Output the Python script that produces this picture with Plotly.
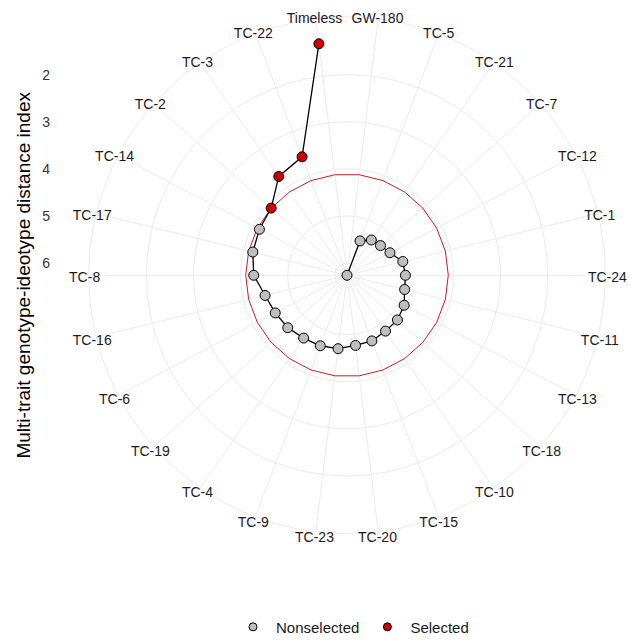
import plotly.graph_objects as go

# ---- data ----
genotypes = ["GW-180", "TC-5", "TC-21", "TC-7", "TC-12", "TC-1", "TC-24", "TC-11",
             "TC-13", "TC-18", "TC-10", "TC-15", "TC-20", "TC-23", "TC-9", "TC-4",
             "TC-19", "TC-6", "TC-16", "TC-8", "TC-17", "TC-14", "TC-2", "TC-3",
             "TC-22", "Timeless"]
mgidi = [6.26, 5.48, 5.35, 5.31, 5.23, 5.04, 5.02, 5.00, 4.89, 4.83, 4.82, 4.77,
         4.76, 4.69, 4.66, 4.64, 4.58, 4.54, 4.47, 4.28, 4.20, 4.16, 4.11, 3.71,
         3.57, 1.31]
selected = ["TC-2", "TC-3", "TC-22", "Timeless"]
radial_ticks = [2, 3, 4, 5, 6]

# ---- style / layout constants ----
R_CENTER = 6.26      # value at the centre of the plot
R_OUTER = 0.775      # value at the outer ring
GRID = "#EBEBEB"
FONT = "Liberation Sans, Arial, sans-serif"
GREY = "#BEBEBE"
RED = "#CC0000"

sel_r = [m for g, m in zip(genotypes, mgidi) if g in selected]
sel_t = [g for g in genotypes if g in selected]
non_r = [m for g, m in zip(genotypes, mgidi) if g not in selected]
non_t = [g for g in genotypes if g not in selected]
cutoff = max(sel_r)

fig = go.Figure()

# cut-off circle
fig.add_trace(go.Scatterpolar(
    r=[cutoff] * (len(genotypes) + 1), theta=genotypes + genotypes[:1],
    mode="lines", line=dict(color="#C81E1E", width=1),
    showlegend=False, hoverinfo="skip"))

# path
fig.add_trace(go.Scatterpolar(
    r=mgidi, theta=genotypes, mode="lines",
    line=dict(color="black", width=1.3), showlegend=False, hoverinfo="skip"))

# points
fig.add_trace(go.Scatterpolar(
    r=non_r, theta=non_t, mode="markers",
    marker=dict(size=10, color=GREY, line=dict(color="black", width=1)),
    showlegend=False))
fig.add_trace(go.Scatterpolar(
    r=sel_r, theta=sel_t, mode="markers",
    marker=dict(size=10, color=RED, line=dict(color="black", width=1)),
    showlegend=False))

# genotype labels on the outer ring of a label-only polar subplot
fig.add_trace(go.Scatterpolar(
    r=[1] * len(genotypes), theta=genotypes, mode="text",
    text=genotypes, textposition="middle center",
    textfont=dict(family=FONT, size=14, color="#1A1A1A"),
    cliponaxis=False, showlegend=False, hoverinfo="skip", subplot="polar2"))

# legend-only entries
fig.add_trace(go.Scatter(x=[None], y=[None], mode="markers", name="Nonselected",
                         marker=dict(size=8, color=GREY, line=dict(color="black", width=1))))
fig.add_trace(go.Scatter(x=[None], y=[None], mode="markers", name="Selected",
                         marker=dict(size=8, color=RED, line=dict(color="black", width=1))))

W, H = 630, 644
cx, cy, R = 347, 277, 260
dom_x = [(cx - R) / W, (cx + R) / W]
dom_y = [1 - (cy + R) / H, 1 - (cy - R) / H]
lx, ly, LR = 346, 280.5, 263
lab_x = [(lx - LR) / W, (lx + LR) / W]
lab_y = [1 - (ly + LR) / H, 1 - (ly - LR) / H]

ang_common = dict(type="category", categoryorder="array", categoryarray=genotypes,
                  direction="clockwise", rotation=90 - 180 / len(genotypes),
                  showticklabels=False, ticks="")

fig.update_layout(
    width=W, height=H,
    margin=dict(l=0, r=0, t=0, b=0),
    paper_bgcolor="white", plot_bgcolor="white",
    font=dict(family=FONT, size=14, color="#1A1A1A"),
    polar=dict(
        domain=dict(x=dom_x, y=dom_y),
        bgcolor="white",
        angularaxis=dict(**ang_common, showgrid=True, gridcolor=GRID, gridwidth=1,
                         showline=True, linecolor=GRID, linewidth=1),
        radialaxis=dict(range=[R_CENTER, R_OUTER], tickvals=radial_ticks,
                        showticklabels=False, ticks="", showline=False,
                        showgrid=True, gridcolor=GRID, gridwidth=1),
    ),
    polar2=dict(
        domain=dict(x=lab_x, y=lab_y),
        bgcolor="rgba(0,0,0,0)",
        angularaxis=dict(**ang_common, showgrid=False, showline=False),
        radialaxis=dict(range=[0, 1], visible=False, showgrid=False),
    ),
    xaxis=dict(domain=[0, 0.01], visible=False, range=[0, 1]),
    yaxis=dict(domain=dom_y, range=[2 * R_CENTER - R_OUTER, R_OUTER],
               anchor="free", position=50 / W, side="left",
               tickvals=radial_ticks, ticks="", showgrid=False, zeroline=False,
               showline=False, tickfont=dict(size=14, color="#333333"),
               title=dict(text="Multi-trait genotype-ideotype distance index",
                          font=dict(size=19, color="black"), standoff=5)),
    legend=dict(orientation="h", x=352 / W, xanchor="center",
                y=1 - 631 / H, yanchor="middle", itemwidth=36,
                font=dict(size=15, color="#1A1A1A"), bgcolor="rgba(0,0,0,0)"),
)

fig.write_html("out.html", config={"displayModeBar": False},
               post_script="document.body.style.margin='0';document.body.style.overflow='hidden';")
